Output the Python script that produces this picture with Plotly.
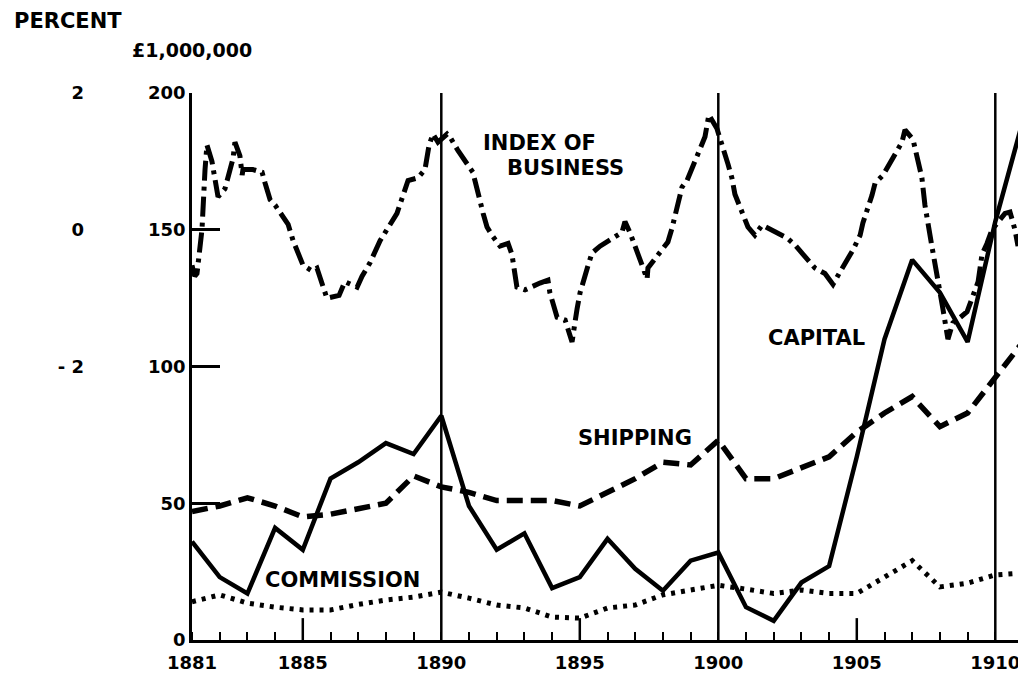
import plotly.graph_objects as go

years = list(range(1881, 1912))

capital = [36, 23, 17, 41, 33, 59, 65, 72, 68, 82, 49, 33, 39, 19, 23, 37, 26, 18, 29, 32,
           12, 7, 21, 27, 67, 110, 139, 127, 109, 153, 190]
shipping = [47, 49, 52, 49, 45, 46, 48, 50, 60, 56, 54, 51, 51, 51, 49, 54, 59, 65, 64, 73,
            59, 59, 63, 67, 76, 83, 89, 78, 83, 96, 109]
commission = [14, 16.5, 13.5, 12, 11, 11, 13, 14.6, 15.7, 17.5, 15.3, 12.8, 11.7, 8.4, 8, 11.7,
              12.8, 16.5, 18.3, 20, 18.6, 17, 18.3, 17, 17, 23, 29, 19.4, 20.8, 23.8, 24.5]

index_years = [1881.00, 1881.10, 1881.18, 1881.36, 1881.47, 1881.54, 1881.72, 1881.90, 1881.94,
               1882.19, 1882.48, 1882.55, 1882.73, 1882.81, 1882.84, 1883.20, 1883.53, 1883.64,
               1883.82, 1884.00, 1884.29, 1884.47, 1884.65, 1885.01, 1885.33, 1885.51, 1885.87,
               1886.31, 1886.52, 1886.96, 1887.14, 1887.43, 1887.79, 1888.15, 1888.40, 1888.80,
               1889.16, 1889.41, 1889.56, 1889.70, 1889.88, 1890.21, 1890.31, 1890.60, 1890.86,
               1891.14, 1891.51, 1891.65, 1891.83, 1892.12, 1892.41, 1892.55, 1892.73, 1893.02,
               1893.56, 1893.85, 1893.92, 1894.18, 1894.47, 1894.72, 1894.90, 1895.01, 1895.30,
               1895.44, 1895.73, 1896.52, 1896.63, 1896.81, 1897.25, 1897.43, 1897.46, 1897.90,
               1898.18, 1898.33, 1898.62, 1898.69, 1898.87, 1899.52, 1899.66, 1899.95, 1900.35,
               1900.49, 1900.60, 1901.07, 1901.32, 1901.58, 1902.48, 1902.77, 1903.06, 1903.49,
               1903.85, 1904.14, 1904.39, 1904.86, 1905.12, 1905.22, 1905.55, 1905.66, 1905.95,
               1906.63, 1906.74, 1907.03, 1907.35, 1907.46, 1907.71, 1907.82, 1908.11, 1908.29,
               1908.47, 1908.62, 1908.98, 1909.38, 1909.52, 1909.70, 1909.88, 1910.35, 1910.53,
               1910.71, 1910.82]
index_values = [137, 133, 134, 150, 172, 181, 175, 166, 162,
                165, 176, 182, 177, 170, 172, 172, 171, 167,
                161, 159, 155, 152, 146, 137, 135, 136, 125,
                126, 131, 129, 133, 138, 146, 152, 156, 168,
                169, 172, 181, 185, 182, 185, 184, 179, 175,
                171, 156, 151, 148, 144, 145, 141, 129, 128,
                130.5, 131.6, 127, 118, 117, 109, 121, 127, 137,
                141.5, 144, 149, 153, 149, 137, 132, 136, 142,
                145.5, 150.6, 164, 165.6, 168, 184, 192, 187, 174,
                169, 163, 151, 148, 151.7, 147, 144.4, 141, 136,
                134, 130, 134.5, 142.6, 148, 152.5, 162.7, 167, 170,
                182, 186.5, 183, 169, 159, 144, 137, 121, 110,
                116, 117, 120, 131, 141, 145, 150, 156, 156.5,
                150, 144]

decade_lines = [1890, 1900, 1910]
half_decades = [1885, 1895, 1905]
x_tick_vals = [1881, 1885, 1890, 1895, 1900, 1905, 1910]
x_tick_text = ["1881", "1885", "1890", "1895", "1900", "1905", "1910"]
money_ticks = [0, 50, 100, 150, 200]
money_text = ["0", "50", "100", "150", "200"]
pct_ticks = [-2, 0, 2]
pct_text = ["- 2", "0", "2"]

FONT = "DejaVu Sans"
INK = "black"

fig = go.Figure()

fig.add_trace(go.Scatter(x=index_years, y=index_values, mode="lines",
                         line=dict(color=INK, width=5, dash="20px,6px,4px,6px"),
                         name="Index of business", hoverinfo="skip"))
fig.add_trace(go.Scatter(x=years, y=shipping, mode="lines",
                         line=dict(color=INK, width=5.5, dash="16px,8px"),
                         name="Shipping"))
fig.add_trace(go.Scatter(x=years, y=commission, mode="lines",
                         line=dict(color=INK, width=5, dash="4px,6px"),
                         name="Commission"))
fig.add_trace(go.Scatter(x=years, y=capital, mode="lines",
                         line=dict(color=INK, width=4.5),
                         name="Capital"))
# invisible trace to anchor percent axis
fig.add_trace(go.Scatter(x=[1881], y=[0], yaxis="y2", mode="markers",
                         marker=dict(opacity=0), showlegend=False, hoverinfo="skip"))

for yr in decade_lines:
    fig.add_shape(type="line", x0=yr, x1=yr, y0=0, y1=200, xref="x", yref="y",
                  line=dict(color=INK, width=2.5))
for yr in half_decades:
    fig.add_shape(type="line", x0=yr, x1=yr, y0=0, y1=8, xref="x", yref="y",
                  line=dict(color=INK, width=2.5))

tickfont = dict(family=FONT, size=18, color=INK, weight="bold")
W, H = 1018, 677
PW = W - 3
fig.update_layout(
    width=W, height=H,
    margin=dict(l=0, r=3, t=85, b=45, autoexpand=False),
    paper_bgcolor="white", plot_bgcolor="white",
    showlegend=False,
    font=dict(family=FONT, color=INK, size=18),
    xaxis=dict(domain=[184 / PW, 1], range=[1881, 1911], showgrid=False, zeroline=False,
               automargin=False, showline=True, linecolor=INK, linewidth=2.5,
               tickvals=x_tick_vals, ticktext=x_tick_text, ticks="", tickfont=tickfont,
               ticklabelstandoff=5,
               minor=dict(ticks="inside", ticklen=8, tickwidth=2, tickcolor=INK,
                          dtick=1, tick0=1881, showgrid=False)),
    yaxis=dict(range=[0, 200], showgrid=False, zeroline=False, showline=True,
               automargin=False, linecolor=INK, linewidth=2.5, ticks="inside", ticklen=28,
               tickwidth=2.5, tickcolor=INK, tickvals=money_ticks, ticktext=money_text,
               tickfont=tickfont),
    yaxis2=dict(range=[-6, 2], overlaying="y", anchor="free", position=76 / PW,
                side="left", showgrid=False, zeroline=False, showline=False, ticks="",
                automargin=False, tickvals=pct_ticks, ticktext=pct_text, tickfont=tickfont),
)

def ann(size):
    return dict(showarrow=False, font=dict(family=FONT, size=size, color=INK, weight="bold"))

fig.add_annotation(text="PERCENT", xref="paper", yref="paper", x=4 / PW, y=1.132,
                   xanchor="left", yanchor="middle", **ann(21))
fig.add_annotation(text="£1,000,000", xref="paper", yref="paper", x=122 / PW, y=1.079,
                   xanchor="left", yanchor="middle", **ann(19))
fig.add_annotation(text="INDEX OF", x=1893.56, y=181.7, xanchor="center", yanchor="middle", **ann(21))
fig.add_annotation(text="BUSINESS", x=1894.47, y=172.6, xanchor="center", yanchor="middle", **ann(21))
fig.add_annotation(text="CAPITAL", x=1903.53, y=110.4, xanchor="center", yanchor="middle", **ann(21))
fig.add_annotation(text="SHIPPING", x=1896.99, y=73.9, xanchor="center", yanchor="middle", **ann(21))
fig.add_annotation(text="COMMISSION", x=1886.45, y=21.9, xanchor="center", yanchor="middle", **ann(21))

fig.write_html("out.html")
